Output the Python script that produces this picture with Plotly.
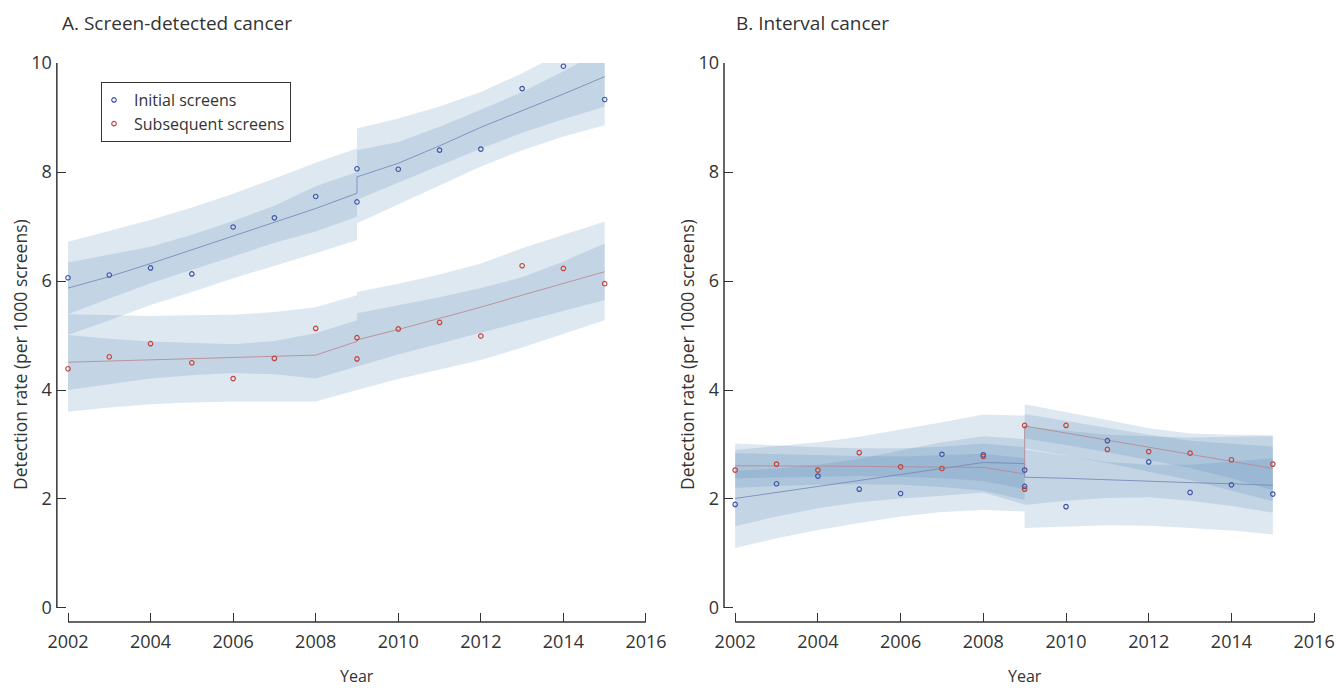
import plotly.graph_objects as go

# ---------------- data ----------------
OBS_YEARS = [2002, 2003, 2004, 2005, 2006, 2007, 2008, 2009, 2009,
             2010, 2011, 2012, 2013, 2014, 2015]
A_INITIAL = [6.06, 6.11, 6.24, 6.13, 6.99, 7.16, 7.55, 8.06, 7.45,
             8.05, 8.40, 8.42, 9.53, 9.94, 9.33]
A_SUBSEQ = [4.39, 4.61, 4.85, 4.50, 4.21, 4.58, 5.13, 4.96, 4.57,
            5.12, 5.24, 4.99, 6.28, 6.23, 5.95]
B_INITIAL = [1.90, 2.28, 2.42, 2.18, 2.10, 2.82, 2.81, 2.53, 2.23,
             1.86, 3.07, 2.68, 2.12, 2.26, 2.09]
B_SUBSEQ = [2.53, 2.64, 2.53, 2.85, 2.59, 2.56, 2.78, 3.35, 2.18,
            3.35, 2.91, 2.87, 2.84, 2.72, 2.64]

PRE_YEARS = [2002, 2003, 2004, 2005, 2006, 2007, 2008, 2009]
POST_YEARS = [2009, 2010, 2011, 2012, 2013, 2014, 2015]

# Panel A, initial screens
A_INI_PRE_FIT = [5.87, 6.08, 6.32, 6.57, 6.83, 7.07, 7.33, 7.61]
A_INI_PRE_IN_LO = [5.39, 5.68, 5.96, 6.20, 6.45, 6.70, 6.91, 7.18]
A_INI_PRE_IN_HI = [6.34, 6.48, 6.63, 6.85, 7.10, 7.38, 7.74, 8.00]
A_INI_PRE_OUT_LO = [5.01, 5.28, 5.56, 5.80, 6.05, 6.28, 6.51, 6.75]
A_INI_PRE_OUT_HI = [6.72, 6.92, 7.12, 7.35, 7.60, 7.88, 8.17, 8.43]
A_INI_POST_FIT = [7.91, 8.16, 8.48, 8.82, 9.12, 9.43, 9.75]
A_INI_POST_IN_LO = [7.49, 7.80, 8.12, 8.43, 8.72, 8.97, 9.20]
A_INI_POST_IN_HI = [8.40, 8.55, 8.83, 9.14, 9.47, 9.85, 10.25]
A_INI_POST_OUT_LO = [7.06, 7.40, 7.75, 8.10, 8.40, 8.65, 8.86]
A_INI_POST_OUT_HI = [8.80, 8.98, 9.20, 9.47, 9.81, 10.20, 10.60]

# Panel A, subsequent screens
A_SUB_PRE_FIT = [4.51, 4.53, 4.55, 4.57, 4.59, 4.61, 4.64, 4.89]
A_SUB_PRE_IN_LO = [4.00, 4.11, 4.21, 4.27, 4.31, 4.29, 4.21, 4.43]
A_SUB_PRE_IN_HI = [5.01, 4.94, 4.89, 4.86, 4.84, 4.90, 5.04, 5.28]
A_SUB_PRE_OUT_LO = [3.60, 3.68, 3.74, 3.77, 3.79, 3.79, 3.79, 4.00]
A_SUB_PRE_OUT_HI = [5.39, 5.37, 5.36, 5.37, 5.38, 5.43, 5.52, 5.74]
A_SUB_POST_FIT = [4.92, 5.11, 5.31, 5.52, 5.74, 5.95, 6.17]
A_SUB_POST_IN_LO = [4.43, 4.65, 4.86, 5.05, 5.25, 5.45, 5.65]
A_SUB_POST_IN_HI = [5.41, 5.55, 5.70, 5.87, 6.07, 6.36, 6.69]
A_SUB_POST_OUT_LO = [4.00, 4.20, 4.38, 4.55, 4.78, 5.03, 5.28]
A_SUB_POST_OUT_HI = [5.80, 5.95, 6.12, 6.32, 6.60, 6.85, 7.09]

# Panel B, initial screens
B_INI_PRE_FIT = [2.01, 2.12, 2.23, 2.34, 2.45, 2.56, 2.67, 2.65]
B_INI_PRE_IN_LO = [1.50, 1.68, 1.83, 1.94, 2.01, 2.06, 2.12, 1.90]
B_INI_PRE_IN_HI = [2.52, 2.56, 2.63, 2.74, 2.89, 3.04, 3.15, 3.10]
B_INI_PRE_OUT_LO = [1.10, 1.28, 1.43, 1.56, 1.68, 1.76, 1.80, 1.77]
B_INI_PRE_OUT_HI = [2.90, 2.97, 3.04, 3.14, 3.27, 3.41, 3.55, 3.53]
B_INI_POST_FIT = [2.40, 2.38, 2.35, 2.33, 2.30, 2.28, 2.25]
B_INI_POST_IN_LO = [1.89, 1.97, 2.02, 2.03, 1.97, 1.87, 1.75]
B_INI_POST_IN_HI = [2.91, 2.79, 2.68, 2.63, 2.63, 2.69, 2.75]
B_INI_POST_OUT_LO = [1.47, 1.50, 1.52, 1.51, 1.47, 1.42, 1.35]
B_INI_POST_OUT_HI = [3.33, 3.26, 3.18, 3.15, 3.13, 3.14, 3.15]

# Panel B, subsequent screens
B_SUB_PRE_FIT = [2.61, 2.61, 2.60, 2.60, 2.59, 2.59, 2.58, 2.46]
B_SUB_PRE_IN_LO = [2.38, 2.40, 2.41, 2.42, 2.41, 2.38, 2.33, 2.18]
B_SUB_PRE_IN_HI = [2.84, 2.82, 2.80, 2.79, 2.78, 2.80, 2.83, 2.75]
B_SUB_PRE_OUT_LO = [2.20, 2.24, 2.26, 2.27, 2.26, 2.22, 2.15, 1.98]
B_SUB_PRE_OUT_HI = [3.02, 2.98, 2.95, 2.93, 2.93, 2.96, 3.02, 2.95]
B_SUB_POST_FIT = [3.34, 3.21, 3.08, 2.95, 2.82, 2.69, 2.56]
B_SUB_POST_IN_LO = [3.11, 2.99, 2.86, 2.72, 2.57, 2.38, 2.16]
B_SUB_POST_IN_HI = [3.56, 3.43, 3.30, 3.18, 3.07, 3.01, 2.96]
B_SUB_POST_OUT_LO = [2.93, 2.80, 2.66, 2.50, 2.35, 2.16, 1.96]
B_SUB_POST_OUT_HI = [3.74, 3.60, 3.45, 3.30, 3.20, 3.18, 3.17]

X_TICKS = [2002, 2004, 2006, 2008, 2010, 2012, 2014, 2016]
Y_TICKS = [0, 2, 4, 6, 8, 10]

# ---------------- style ----------------
FONT = "Open Sans"
TXT = "#333333"
BAND = "rgba(70,130,180,0.18)"
INI_MARK = "#4058a6"
SUB_MARK = "#c0463f"
INI_LINE = "rgba(120,135,185,0.85)"
SUB_LINE = "rgba(185,135,145,0.85)"

W, H = 1336, 688

fig = go.Figure()


def band(xa, ya, years, lo, hi):
    fig.add_trace(go.Scatter(
        x=list(years) + list(years)[::-1],
        y=list(hi) + list(lo)[::-1],
        mode="lines", fill="toself", fillcolor=BAND,
        line=dict(width=0), hoverinfo="skip", showlegend=False,
        xaxis=xa, yaxis=ya))


def fit_line(xa, ya, pre_fit, post_fit, color):
    fig.add_trace(go.Scatter(
        x=PRE_YEARS + POST_YEARS, y=pre_fit + post_fit,
        mode="lines", line=dict(color=color, width=1),
        hoverinfo="skip", showlegend=False, xaxis=xa, yaxis=ya))


def points(xa, ya, vals, color, name, legend):
    fig.add_trace(go.Scatter(
        x=OBS_YEARS, y=vals, mode="markers", name=name,
        marker=dict(symbol="circle-open", size=4.5, color=color,
                    line=dict(width=1.2, color=color)),
        showlegend=legend, xaxis=xa, yaxis=ya))


panels = [
    ("x", "y", [
        (A_INI_PRE_OUT_LO, A_INI_PRE_OUT_HI, A_INI_POST_OUT_LO, A_INI_POST_OUT_HI,
         A_INI_PRE_IN_LO, A_INI_PRE_IN_HI, A_INI_POST_IN_LO, A_INI_POST_IN_HI),
        (A_SUB_PRE_OUT_LO, A_SUB_PRE_OUT_HI, A_SUB_POST_OUT_LO, A_SUB_POST_OUT_HI,
         A_SUB_PRE_IN_LO, A_SUB_PRE_IN_HI, A_SUB_POST_IN_LO, A_SUB_POST_IN_HI)],
     [(A_INI_PRE_FIT, A_INI_POST_FIT, INI_LINE), (A_SUB_PRE_FIT, A_SUB_POST_FIT, SUB_LINE)],
     [(A_INITIAL, INI_MARK, "Initial screens"), (A_SUBSEQ, SUB_MARK, "Subsequent screens")],
     True),
    ("x2", "y2", [
        (B_INI_PRE_OUT_LO, B_INI_PRE_OUT_HI, B_INI_POST_OUT_LO, B_INI_POST_OUT_HI,
         B_INI_PRE_IN_LO, B_INI_PRE_IN_HI, B_INI_POST_IN_LO, B_INI_POST_IN_HI),
        (B_SUB_PRE_OUT_LO, B_SUB_PRE_OUT_HI, B_SUB_POST_OUT_LO, B_SUB_POST_OUT_HI,
         B_SUB_PRE_IN_LO, B_SUB_PRE_IN_HI, B_SUB_POST_IN_LO, B_SUB_POST_IN_HI)],
     [(B_INI_PRE_FIT, B_INI_POST_FIT, INI_LINE), (B_SUB_PRE_FIT, B_SUB_POST_FIT, SUB_LINE)],
     [(B_INITIAL, INI_MARK, "Initial screens"), (B_SUBSEQ, SUB_MARK, "Subsequent screens")],
     False),
]

for xa, ya, bands, fits, pts, legend in panels:
    for b in bands:
        band(xa, ya, PRE_YEARS, b[0], b[1])
        band(xa, ya, POST_YEARS, b[2], b[3])
    for b in bands:
        band(xa, ya, PRE_YEARS, b[4], b[5])
        band(xa, ya, POST_YEARS, b[6], b[7])
    for pre, post, c in fits:
        fit_line(xa, ya, pre, post, c)
    for vals, c, name in pts:
        points(xa, ya, vals, c, name, legend)

# ---------------- layout ----------------
y_dom = [(H - 622) / H, (H - 63) / H]
common_x = dict(range=[2001.73, 2016.1], tickvals=X_TICKS, ticks="inside",
                ticklen=9, tickwidth=1.3, tickcolor=TXT, showgrid=False,
                zeroline=False, showline=False, ticklabelstandoff=7,
                automargin=False,
                tickfont=dict(family=FONT, size=18, color=TXT))
common_y = dict(range=[-0.257, 10], tickvals=Y_TICKS, ticks="inside",
                ticklen=9, tickwidth=1.3, tickcolor=TXT, showgrid=False,
                zeroline=False, showline=False, ticklabelstandoff=4,
                automargin=False,
                domain=y_dom, tickfont=dict(family=FONT, size=18, color=TXT))

fig.update_layout(
    width=W, height=H, autosize=False,
    margin=dict(l=0, r=0, t=0, b=0, pad=0, autoexpand=False),
    paper_bgcolor="white", plot_bgcolor="rgba(0,0,0,0)",
    font=dict(family=FONT, color=TXT),
    xaxis=dict(domain=[56.85 / W, 650.1 / W], anchor="y", **common_x),
    yaxis=dict(anchor="x", **common_y),
    xaxis2=dict(domain=[724.0 / W, 1318.3 / W], anchor="y2", **common_x),
    yaxis2=dict(anchor="x2", **common_y),
    legend=dict(x=101 / W, y=(H - 82) / H, xanchor="left", yanchor="top",
                bgcolor="white", bordercolor=TXT, borderwidth=1,
                font=dict(family=FONT, size=16, color=TXT),
                indentation=-8, tracegroupgap=0),
    showlegend=True,
)

shapes = []
for xa, ya in [("x", "y"), ("x2", "y2")]:
    shapes.append(dict(type="line", xref=f"{xa} domain", x0=0, x1=0,
                       yref=ya, y0=0, y1=10, line=dict(color=TXT, width=1.5)))
    shapes.append(dict(type="line", xref=xa, x0=2002, x1=2016,
                       yref=f"{ya} domain", y0=0, y1=0, line=dict(color=TXT, width=1.5)))
fig.update_layout(shapes=shapes)

ann = [
    dict(text="A. Screen-detected cancer", x=60 / W, y=(H - 22.7) / H,
         xanchor="left", yanchor="middle", font=dict(size=19)),
    dict(text="B. Interval cancer", x=734 / W, y=(H - 22.7) / H,
         xanchor="left", yanchor="middle", font=dict(size=19)),
    dict(text="Year", x=357 / W, y=(H - 676) / H,
         xanchor="center", yanchor="middle", font=dict(size=16)),
    dict(text="Year", x=1025 / W, y=(H - 676) / H,
         xanchor="center", yanchor="middle", font=dict(size=16)),
    dict(text="Detection rate (per 1000 screens)", x=20 / W, y=(H - 355) / H,
         xanchor="center", yanchor="middle", textangle=-90, font=dict(size=17.5)),
    dict(text="Detection rate (per 1000 screens)", x=687 / W, y=(H - 355) / H,
         xanchor="center", yanchor="middle", textangle=-90, font=dict(size=17.5)),
]
for a in ann:
    a.update(xref="paper", yref="paper", showarrow=False)
    a["font"].update(family=FONT, color=TXT)
fig.update_layout(annotations=ann)

fig.write_html(
    "out.html",
    config={"displayModeBar": False},
    post_script="document.body.style.margin='0';document.body.style.overflow='hidden';",
)
